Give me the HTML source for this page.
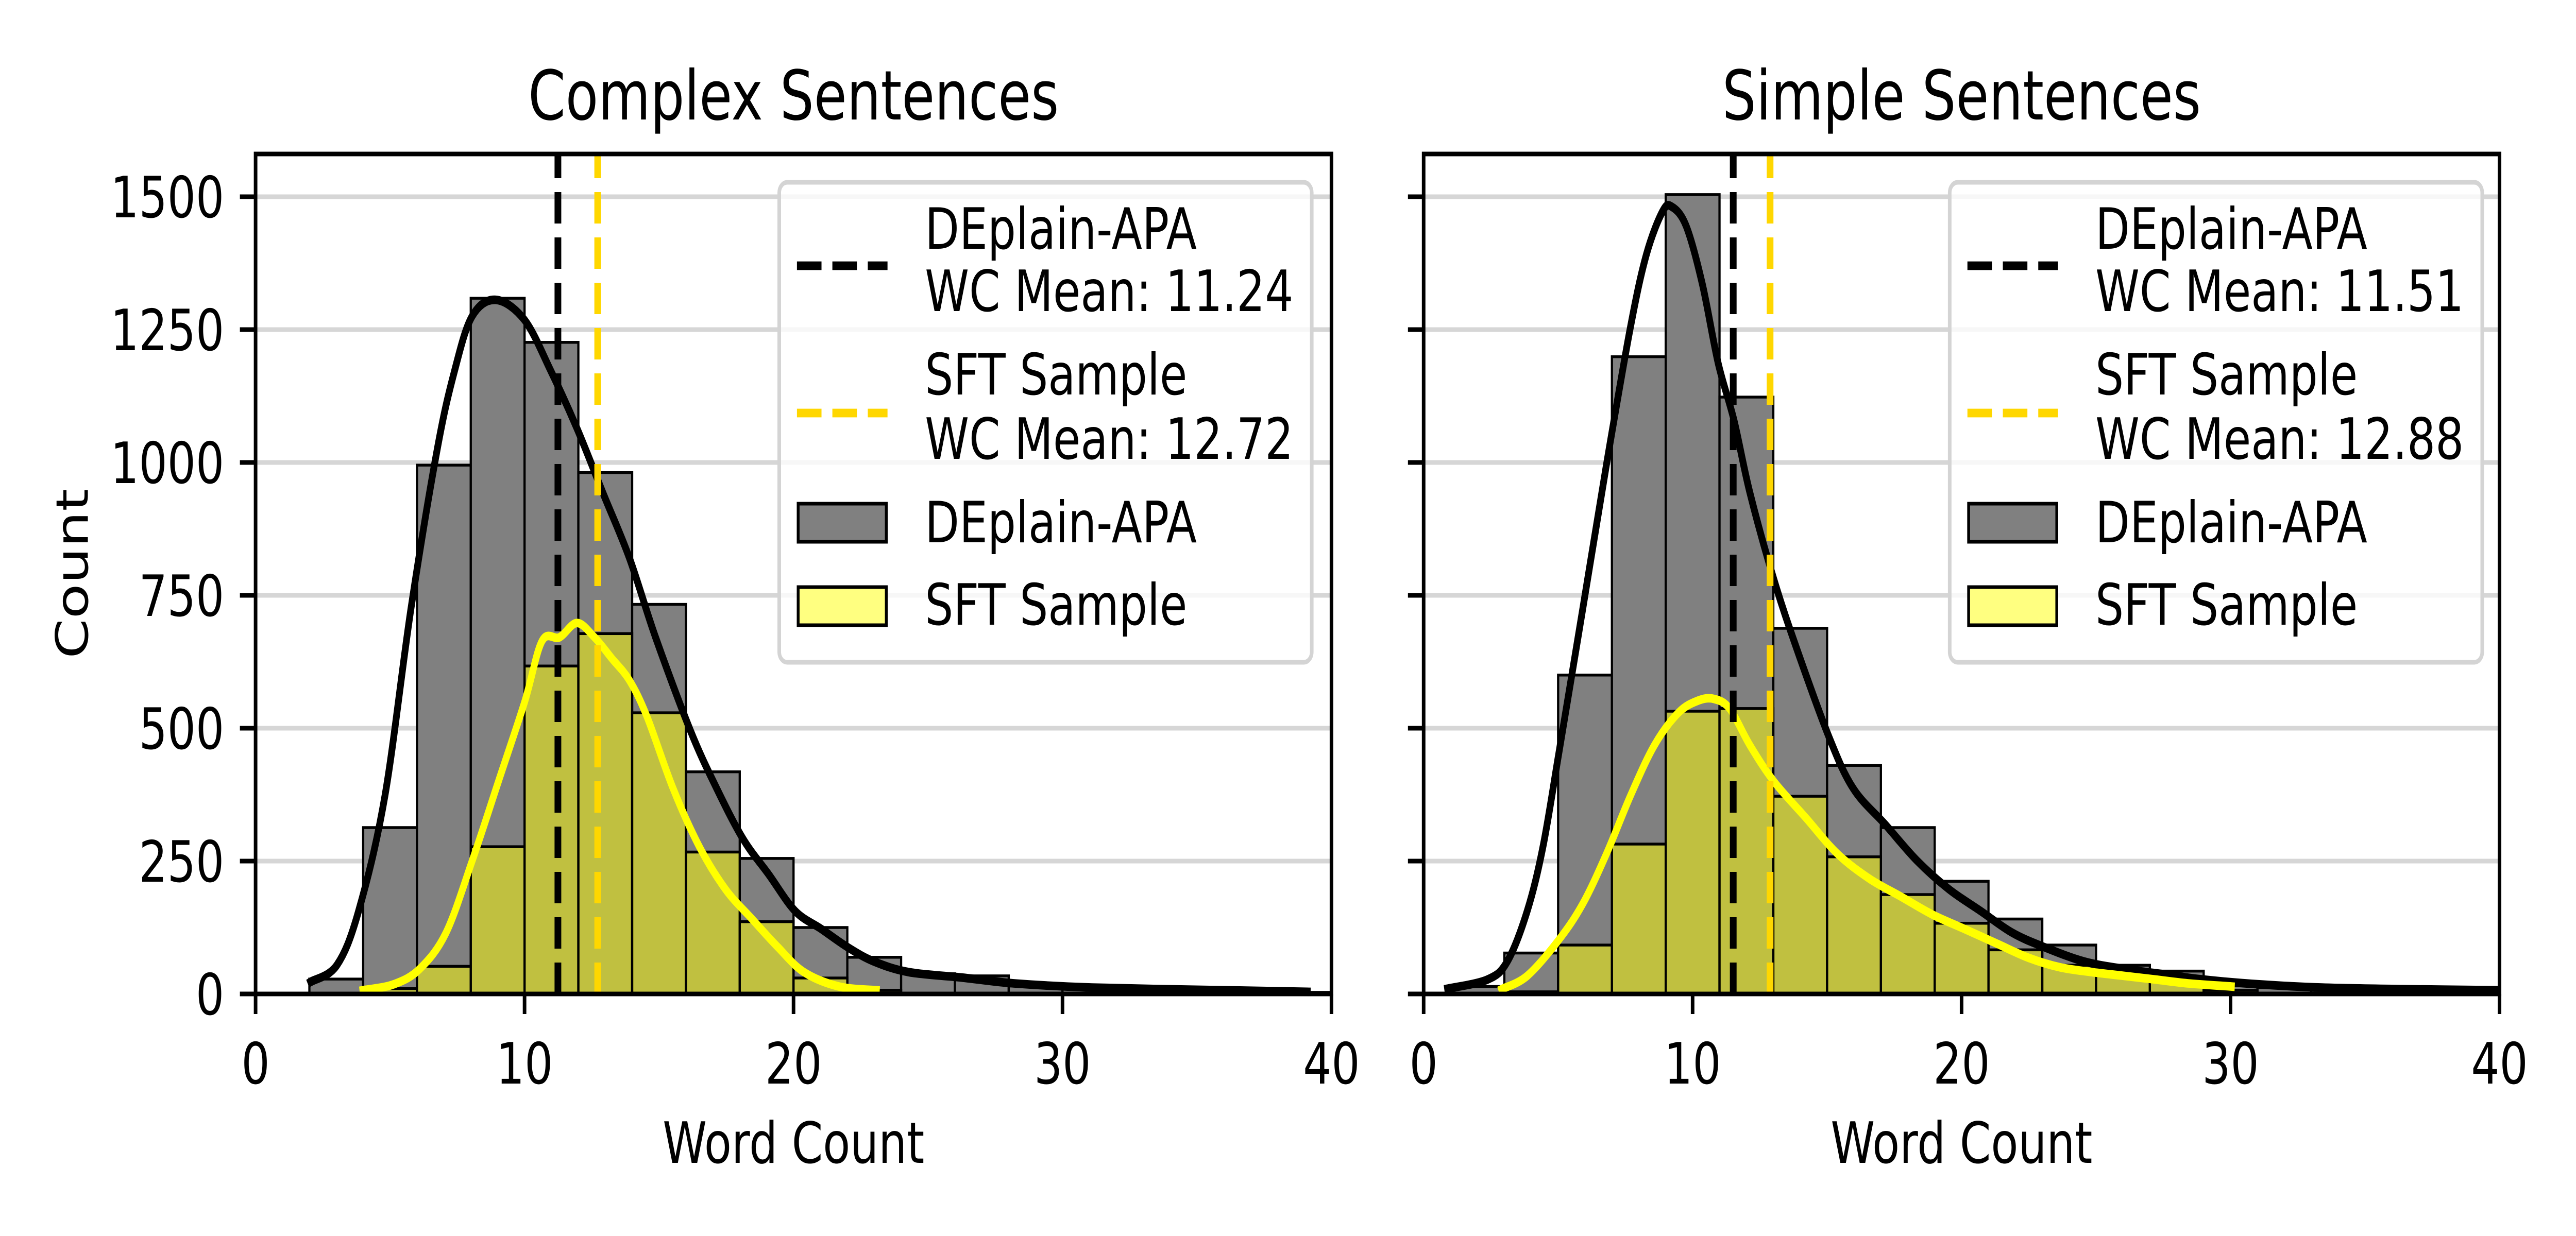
<!DOCTYPE html>
<html><head><meta charset="utf-8"><style>
html,body{margin:0;padding:0;background:#fff;width:100vw;height:100vh;overflow:hidden;}
svg{display:block;width:100vw;height:100vh;font-family:"DejaVu Sans","Liberation Sans",sans-serif;}
</style></head><body>
<svg id="chart" xmlns="http://www.w3.org/2000/svg" viewBox="0 0 6400 2400" preserveAspectRatio="none">
<rect width="6400" height="2400" fill="#fff"/>
</svg>
<script>
// ---- data ----
const xTicks = [0, 10, 20, 30, 40];
const yTicks = [0, 250, 500, 750, 1000, 1250, 1500];
const complexBinStarts = [2,4,6,8,10,12,14,16,18,20,22,24,26,28,30,32,34,36,38];
const complexApaCounts = [28,313,995,1309,1226,981,733,418,255,125,69,38,34,15,10,8,6,5,3];
const complexSftBinStarts = [4,6,8,10,12,14,16,18,20,22];
const complexSftCounts = [10,52,277,617,678,529,267,136,30,7];
const simpleBinStarts = [1,3,5,7,9,11,13,15,17,19,21,23,25,27,29,31,33,35,37];
const simpleApaCounts = [14,77,600,1199,1504,1123,688,430,313,212,141,92,54,43,23,12,8,6,4];
const simpleSftBinStarts = [3,5,7,9,11,13,15,17,19,21,23,25,27,29];
const simpleSftCounts = [4,92,282,532,537,372,258,187,133,83,54,41,27,7];
const complexApaKdeX = [2.05,3.02,3.83,4.81,5.78,6.75,7.4,8.05,8.93,10,10.97,11.95,12.92,13.9,14.87,16.17,17.14,18.12,19.09,20.06,21.04,22.01,22.99,24.29,26.23,28.18,31.1,36,39.1];
const complexApaKdeY = [23,54,156,373,726,1024,1173,1275,1306,1268,1173,1064,942,820,671,495,387,292,224,156,122,88,61,41,31,20,12,7,4];
const complexSftKdeX = [3.99,5.13,6.1,7.08,8.05,9.03,10,10.65,11.3,11.95,12.6,13.25,13.9,14.55,15.52,16.49,17.47,18.44,19.42,20.39,21.69,23.08];
const complexSftKdeY = [7,18,47,115,250,400,549,664,671,698,671,631,590,522,387,278,197,142,88,41,14,7];
const simpleApaKdeX = [0.89,2.37,3.11,3.85,4.44,5.03,5.92,6.8,7.69,8.28,8.88,9.23,9.76,10.36,10.95,11.54,12.13,13.02,13.91,15.09,15.98,17.16,18.34,19.53,20.71,21.89,23.08,24.56,26.04,27.51,29,31.07,33.4,36.4,39.9];
const simpleApaKdeY = [10,27,61,156,278,454,726,997,1255,1391,1472,1481,1445,1336,1187,1079,943,780,644,481,386,319,251,197,156,115,88,61,47,37,27,18,12,9,7];
const simpleSftKdeX = [2.9,3.85,5.03,5.92,6.8,7.69,8.58,9.47,10.21,10.8,11.39,12.13,13.02,14.2,15.38,16.57,17.75,18.93,20.12,21.3,22.49,23.67,24.85,26.04,27.22,28.4,30.03];
const simpleSftKdeY = [9,34,102,170,264,373,468,529,552,555,536,468,400,332,264,217,183,149,122,95,68,50,41,34,27,20,14];
const panelTitles = ["Complex Sentences", "Simple Sentences"];
const apaMeans = [11.24, 11.51];
const sftMeans = [12.72, 12.88];
const binWidth = 2;

// ---- rendering ----
const NS = "http://www.w3.org/2000/svg";
const svg = document.getElementById("chart");
function mk(tag, attrs, parent) {
  const e = document.createElementNS(NS, tag);
  for (const k in attrs) e.setAttribute(k, attrs[k]);
  (parent || svg).appendChild(e);
  return e;
}
const Y0 = 1930, YTOP = 299, YPX = 1548 / 1500;
const FS = 111;
function yScale(v) { return Y0 - v * YPX; }

function smoothPath(pts) {
  let d = "M" + pts[0][0].toFixed(1) + "," + pts[0][1].toFixed(1);
  for (let i = 0; i < pts.length - 1; i++) {
    const p0 = pts[i - 1] || pts[i], p1 = pts[i], p2 = pts[i + 1], p3 = pts[i + 2] || p2;
    const c1x = p1[0] + (p2[0] - p0[0]) / 6, c1y = p1[1] + (p2[1] - p0[1]) / 6;
    const c2x = p2[0] - (p3[0] - p1[0]) / 6, c2y = p2[1] - (p3[1] - p1[1]) / 6;
    d += "C" + c1x.toFixed(1) + "," + c1y.toFixed(1) + " " + c2x.toFixed(1) + "," + c2y.toFixed(1) + " " + p2[0].toFixed(1) + "," + p2[1].toFixed(1);
  }
  return d;
}

const panels = [
  { left: 635, right: 3308, bins: complexBinStarts, apa: complexApaCounts, sbins: complexSftBinStarts, sft: complexSftCounts,
    kax: complexApaKdeX, kay: complexApaKdeY, ksx: complexSftKdeX, ksy: complexSftKdeY, yLabels: true, key: "complex" },
  { left: 3537, right: 6210, bins: simpleBinStarts, apa: simpleApaCounts, sbins: simpleSftBinStarts, sft: simpleSftCounts,
    kax: simpleApaKdeX, kay: simpleApaKdeY, ksx: simpleSftKdeX, ksy: simpleSftKdeY, yLabels: false, key: "simple" }
];

panels.forEach((p, pi) => {
  const W = p.right - p.left;
  const xScale = v => p.left + v / 40 * W;
  const g = mk("g", {});
  
  

  yTicks.forEach(t => {
    const l = mk("line", { x1: p.left, x2: p.right, y1: yScale(t), y2: yScale(t), stroke: "#d6d6d6", "stroke-width": 9 }, g);
    
    
  });

  p.bins.forEach((b, i) => {
    const r = mk("rect", { x: xScale(b), y: yScale(p.apa[i]), width: xScale(b + binWidth) - xScale(b), height: Y0 - yScale(p.apa[i]),
      fill: "#808080", stroke: "#000", "stroke-width": 5.5 }, g);
    
    
  });
  p.sbins.forEach((b, i) => {
    const r = mk("rect", { x: xScale(b), y: yScale(p.sft[i]), width: xScale(b + binWidth) - xScale(b), height: Y0 - yScale(p.sft[i]),
      fill: "rgba(255,255,0,0.5)", stroke: "#000", "stroke-width": 5.5 }, g);
    
    
  });

  function kde(xs, ys, color, name) {
    const pts = xs.map((x, i) => [xScale(x), yScale(ys[i])]);
    const path = mk("path", { d: smoothPath(pts), fill: "none", stroke: color, "stroke-width": 16.7, "stroke-linejoin": "round", "stroke-linecap": "square" }, g);
    
    
  }
  kde(p.kax, p.kay, "#000", "deplain-apa-kde-line");
  kde(p.ksx, p.ksy, "#ffff00", "sft-sample-kde-line");

  const m1 = mk("line", { x1: xScale(apaMeans[pi]), x2: xScale(apaMeans[pi]), y1: Y0, y2: YTOP, stroke: "#000", "stroke-width": 16.7, "stroke-dasharray": "61 27" }, g);
  
  
  const m2 = mk("line", { x1: xScale(sftMeans[pi]), x2: xScale(sftMeans[pi]), y1: Y0, y2: YTOP, stroke: "#ffd700", "stroke-width": 16.7, "stroke-dasharray": "61 27" }, g);
  
  

  const fr = mk("rect", { x: p.left, y: YTOP, width: W, height: Y0 - YTOP, fill: "none", stroke: "#000", "stroke-width": 8.9 }, g);
  
  

  xTicks.forEach(t => {
    const tl = mk("line", { x1: xScale(t), x2: xScale(t), y1: Y0, y2: Y0 + 39, stroke: "#000", "stroke-width": 8.9 }, g);
    
    
    const tx = mk("text", { x: xScale(t), y: 2104, "font-size": FS, "text-anchor": "middle" }, g);
    tx.textContent = t;
    
    
  });
  yTicks.forEach(t => {
    const tl = mk("line", { x1: p.left - 39, x2: p.left, y1: yScale(t), y2: yScale(t), stroke: "#000", "stroke-width": 8.9 }, g);
    
    
    if (p.yLabels) {
      const tx = mk("text", { x: p.left - 78, y: yScale(t) + 40, "font-size": FS, "text-anchor": "end" }, g);
      tx.textContent = t;
      
      
    }
  });

  const ti = mk("text", { x: (p.left + p.right) / 2, y: 232, "font-size": 133, "text-anchor": "middle" }, g);
  ti.textContent = panelTitles[pi];
  
  
  const xl = mk("text", { x: (p.left + p.right) / 2, y: 2258, "font-size": FS, "text-anchor": "middle" }, g);
  xl.textContent = "Word Count";
  
  
  if (p.yLabels) {
    const yl = mk("text", { x: 0, y: 0, "font-size": FS, "text-anchor": "middle", transform: "translate(218,1114) rotate(-90)" }, g);
    yl.textContent = "Count";
    
    
  }

  const off = pi === 0 ? 0 : 4844 - 1936;
  const lg = mk("g", { transform: "translate(" + off + ",0)" }, g);
  
  
  mk("rect", { x: 1936, y: 354, width: 1323, height: 932, rx: 20, fill: "rgba(255,255,255,0.8)", stroke: "#d4d4d4", "stroke-width": 8.9 }, lg);
  const h1 = mk("line", { x1: 1980, x2: 2205, y1: 516, y2: 516, stroke: "#000", "stroke-width": 16.7, "stroke-dasharray": "61 27" }, lg);
  
  
  const h2 = mk("line", { x1: 1980, x2: 2205, y1: 802, y2: 802, stroke: "#ffd700", "stroke-width": 16.7, "stroke-dasharray": "61 27" }, lg);
  
  
  const h3 = mk("rect", { x: 1983, y: 978, width: 219, height: 74, fill: "#808080", stroke: "#000", "stroke-width": 7 }, lg);
  
  
  const h4 = mk("rect", { x: 1983, y: 1140, width: 219, height: 74, fill: "#ffff80", stroke: "#000", "stroke-width": 7 }, lg);
  
  
  const lines = [["DEplain-APA", 483], ["WC Mean: " + apaMeans[pi].toFixed(2), 604], ["SFT Sample", 766],
                 ["WC Mean: " + sftMeans[pi].toFixed(2), 891], ["DEplain-APA", 1053], ["SFT Sample", 1213]];
  lines.forEach(l => {
    const t = mk("text", { x: 2298, y: l[1], "font-size": FS }, lg);
    t.textContent = l[0];
    
    
  });
});
</script>
</body></html>
